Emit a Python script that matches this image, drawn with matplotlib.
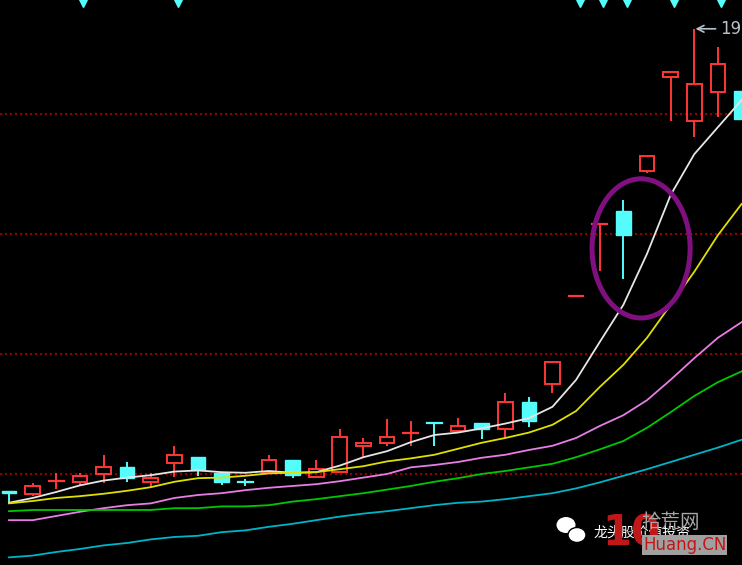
import numpy as np
import matplotlib.pyplot as plt
from matplotlib.patches import Rectangle, Ellipse

plt.rcParams['font.family'] = ['Noto Sans CJK SC', 'DejaVu Sans']

# daily candles (price)
opens  = [11.72, 11.67, 11.88, 11.87, 12.00, 12.12, 11.87, 12.18, 12.28, 12.02, 11.87, 12.03, 12.23, 11.95, 12.03, 12.47,
          12.52, 12.68, 12.85, 12.72, 12.85, 12.75, 13.20, 13.50, 14.97, 16.17, 16.38, 17.05, 18.62, 17.88, 18.37, 18.38]
closes = [11.68, 11.80, 11.88, 11.97, 12.12, 11.93, 11.93, 12.32, 12.07, 11.87, 11.87, 12.23, 11.98, 12.08, 12.62, 12.52,
          12.62, 12.68, 12.85, 12.80, 12.75, 13.20, 12.88, 13.87, 14.97, 16.17, 15.98, 17.30, 18.70, 18.50, 18.83, 17.92]
highs  = [11.72, 11.85, 12.02, 12.02, 12.32, 12.20, 12.02, 12.47, 12.28, 12.02, 11.92, 12.32, 12.23, 12.23, 12.75, 12.60,
          12.92, 12.88, 12.85, 12.93, 12.85, 13.35, 13.28, 13.87, 14.97, 16.17, 16.57, 17.30, 18.72, 19.42, 19.12, 18.38]
lows   = [11.53, 11.63, 11.75, 11.82, 11.85, 11.87, 11.78, 11.95, 11.97, 11.82, 11.80, 12.02, 11.93, 11.93, 12.03, 12.28,
          12.47, 12.47, 12.47, 12.68, 12.58, 12.60, 12.78, 13.35, 14.97, 15.38, 15.25, 17.02, 17.88, 17.62, 17.95, 17.92]
rising = [0, 1, 1, 1, 1, 0, 1, 1, 0, 0, 0, 1, 0, 1, 1, 1, 1, 1, 0, 1, 0, 1, 0, 1, 1, 1, 0, 1, 1, 1, 1, 0]

# moving averages
ma5  = [11.52, 11.60, 11.70, 11.81, 11.89, 11.94, 11.98, 12.04, 12.06, 12.03, 12.02, 12.05, 12.02, 12.03, 12.14, 12.28,
        12.38, 12.53, 12.65, 12.69, 12.76, 12.84, 12.93, 13.12, 13.57, 14.20, 14.82, 15.67, 16.65, 17.33, 17.78, 18.23]
ma10 = [11.51, 11.55, 11.60, 11.63, 11.67, 11.72, 11.78, 11.87, 11.93, 11.94, 11.97, 12.01, 12.02, 12.03, 12.08, 12.13,
        12.21, 12.26, 12.32, 12.42, 12.52, 12.60, 12.69, 12.82, 13.05, 13.45, 13.82, 14.27, 14.82, 15.37, 15.98, 16.50]
ma20 = [11.23, 11.23, 11.30, 11.37, 11.43, 11.48, 11.51, 11.60, 11.65, 11.68, 11.73, 11.77, 11.80, 11.83, 11.88, 11.94,
        12.00, 12.11, 12.15, 12.20, 12.27, 12.32, 12.40, 12.47, 12.60, 12.80, 12.98, 13.23, 13.57, 13.93, 14.27, 14.53]
ma30 = [11.38, 11.40, 11.40, 11.40, 11.40, 11.40, 11.40, 11.43, 11.43, 11.46, 11.46, 11.48, 11.54, 11.58, 11.63, 11.68,
        11.74, 11.80, 11.87, 11.93, 12.00, 12.05, 12.11, 12.17, 12.28, 12.41, 12.55, 12.77, 13.03, 13.30, 13.53, 13.71]
ma60 = [10.61, 10.64, 10.70, 10.75, 10.81, 10.85, 10.91, 10.95, 10.97, 11.03, 11.06, 11.12, 11.17, 11.23, 11.29, 11.34,
        11.38, 11.43, 11.48, 11.52, 11.54, 11.58, 11.63, 11.68, 11.76, 11.86, 11.97, 12.08, 12.20, 12.32, 12.44, 12.57]

grid_levels = [12, 14, 16, 18]
signal_idx = [3, 7, 24, 25, 26, 28, 30]
peak_idx = 29
peak_label = '19'
circle_center = (26.75, 15.76)
circle_size = (4.15, 2.32)

RED = '#ff3636'
CYAN = '#54fcfc'

fig = plt.figure(figsize=(7.42, 5.65), dpi=100)
fig.patch.set_facecolor('black')
ax = fig.add_axes([0, 0, 1, 1])
ax.set_facecolor('black')
ax.set_xlim(-0.38, 31.02)
ax.set_ylim(10.483, 19.9)
ax.axis('off')

for lv in grid_levels:
    ax.axhline(lv, color='#900000', lw=1.5, ls=(0, (1, 1.4)), zorder=1)

x = np.arange(len(opens))
w = 0.62
for i in x:
    o, h, l, c = opens[i], highs[i], lows[i], closes[i]
    col = RED if rising[i] else CYAN
    top, bot = max(o, c), min(o, c)
    if top - bot < 0.02:
        ax.plot([i - w / 2, i + w / 2], [top, top], color=col, lw=1.6, zorder=2)
        ax.vlines(i, l, h, color=col, lw=1.4, zorder=2)
    elif rising[i]:
        ax.add_patch(Rectangle((i - w / 2, bot), w, top - bot, fill=False, edgecolor=col, lw=1.4, zorder=2))
        ax.vlines(i, top, h, color=col, lw=1.4, zorder=2)
        ax.vlines(i, l, bot, color=col, lw=1.4, zorder=2)
    else:
        ax.vlines(i, l, h, color=col, lw=1.4, zorder=2)
        ax.add_patch(Rectangle((i - w / 2, bot), w, top - bot, facecolor=col, edgecolor=col, lw=1, zorder=2))

ax.plot(x, ma5, color='#e6e6e6', lw=1.3, zorder=3)
ax.plot(x, ma10, color='#e0e000', lw=1.3, zorder=3)
ax.plot(x, ma20, color='#e67ee6', lw=1.3, zorder=3)
ax.plot(x, ma30, color='#00c800', lw=1.3, zorder=3)
ax.plot(x, ma60, color='#00b4c8', lw=1.3, zorder=3)

# buy signal markers along the top
ax.plot(np.array(signal_idx) + 0.15, [19.85] * len(signal_idx), 'v', color=CYAN, ms=6, mec=CYAN, zorder=4, clip_on=False)

# peak label
ax.annotate(peak_label, xy=(peak_idx + 0.05, highs[peak_idx]), xytext=(30.08, highs[peak_idx]),
            color='#b8c0c8', fontsize=12, va='center', ha='left', family='DejaVu Sans',
            arrowprops=dict(arrowstyle='->', color='#b8c0c8', lw=1.2, shrinkA=1, shrinkB=0))

ax.add_patch(Ellipse(circle_center, circle_size[0], circle_size[1], fill=False, edgecolor='#80107f', lw=3.6, zorder=5))

# watermark
def fx(px):
    return px / 742

def fy(py):
    return 1 - py / 565

fig.patches.append(Ellipse((fx(566), fy(525)), 19 / 742, 16 / 565, transform=fig.transFigure, facecolor='white', edgecolor='none'))
fig.patches.append(Ellipse((fx(577), fy(535)), 18 / 742, 15 / 565, transform=fig.transFigure, facecolor='white', edgecolor='black', lw=1))
fig.text(fx(594), fy(533), '龙头股价值投资', color='white', fontsize=10, va='center', ha='left')
fig.text(fx(602), fy(533), '10', color='#c01818', fontsize=30, fontweight='bold', va='center', ha='left', family='DejaVu Sans')
fig.text(fx(641), fy(523), '拾荒网', color='#a8a8a8', fontsize=14, va='center', ha='left')
fig.text(fx(643), fy(545), 'Huang.CN', color='#c01818', fontsize=12, va='center', ha='left', family='DejaVu Sans',
         bbox=dict(facecolor='#a0a0a0', edgecolor='none', pad=0.5))

fig.savefig('out.png', dpi=100, facecolor='black')
